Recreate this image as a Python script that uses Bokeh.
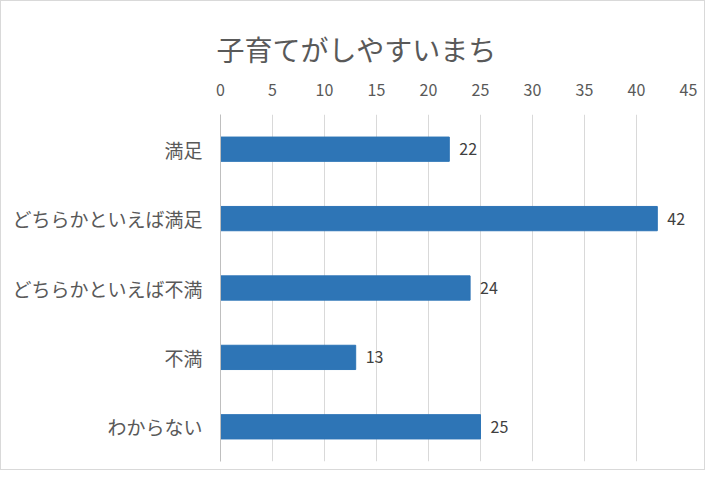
from bokeh.plotting import figure
from bokeh.models import FactorRange, Range1d, ColumnDataSource, LabelSet, FixedTicker, Title
from bokeh.core.properties import value
from bokeh.embed import file_html
from bokeh.resources import INLINE

title_text = "子育てがしやすいまち"
categories = ["満足", "どちらかといえば満足", "どちらかといえば不満", "不満", "わからない"]
values = [22, 42, 24, 13, 25]
x_ticks = [0, 5, 10, 15, 20, 25, 30, 35, 40, 45]

FONT = "Noto Sans CJK JP"

src = ColumnDataSource(dict(cat=categories, val=values, lab=[str(v) for v in values]))

p = figure(width=705, height=470, output_backend="svg", toolbar_location=None,
           y_range=FactorRange(*categories[::-1], range_padding=0),
           x_range=Range1d(0, 45), x_axis_location="above",
           min_border_left=219, min_border_right=18, min_border_top=113, min_border_bottom=10)

p.hbar(y="cat", right="val", left=0, height=0.35, source=src, color="#2E75B6")

labels = LabelSet(x="val", y="cat", text="lab", source=src, x_offset=10, y_offset=0,
                  text_baseline="middle", text_font_size="16px", text_color="#404040",
                  text_font=value(FONT))
p.add_layout(labels)

t = Title(text=title_text, align="left", text_font=FONT, text_font_size="28px",
          text_font_style="normal", text_color="#595959", offset=-4, standoff=24)
p.add_layout(t, "above")

p.outline_line_color = None
p.ygrid.grid_line_color = None
p.xgrid.grid_line_color = "#D9D9D9"
p.xgrid.grid_line_width = 1
p.xaxis.ticker = FixedTicker(ticks=x_ticks)
p.xaxis.axis_line_color = None
p.xaxis.major_tick_line_color = None
p.xaxis.minor_tick_line_color = None
p.xaxis.major_label_text_font = FONT
p.xaxis.major_label_text_font_size = "16px"
p.xaxis.major_label_text_color = "#595959"
p.xaxis.major_label_standoff = 13

p.yaxis.axis_line_color = "#BFBFBF"
p.yaxis.major_tick_line_color = None
p.yaxis.minor_tick_line_color = None
p.yaxis.major_label_text_font = FONT
p.yaxis.major_label_text_font_size = "19px"
p.yaxis.major_label_text_color = "#595959"
p.yaxis.major_label_standoff = 12

p.styles = {"border": "1px solid #D9D9D9", "box-sizing": "border-box"}

open("out.html", "w").write(file_html(p, INLINE))
